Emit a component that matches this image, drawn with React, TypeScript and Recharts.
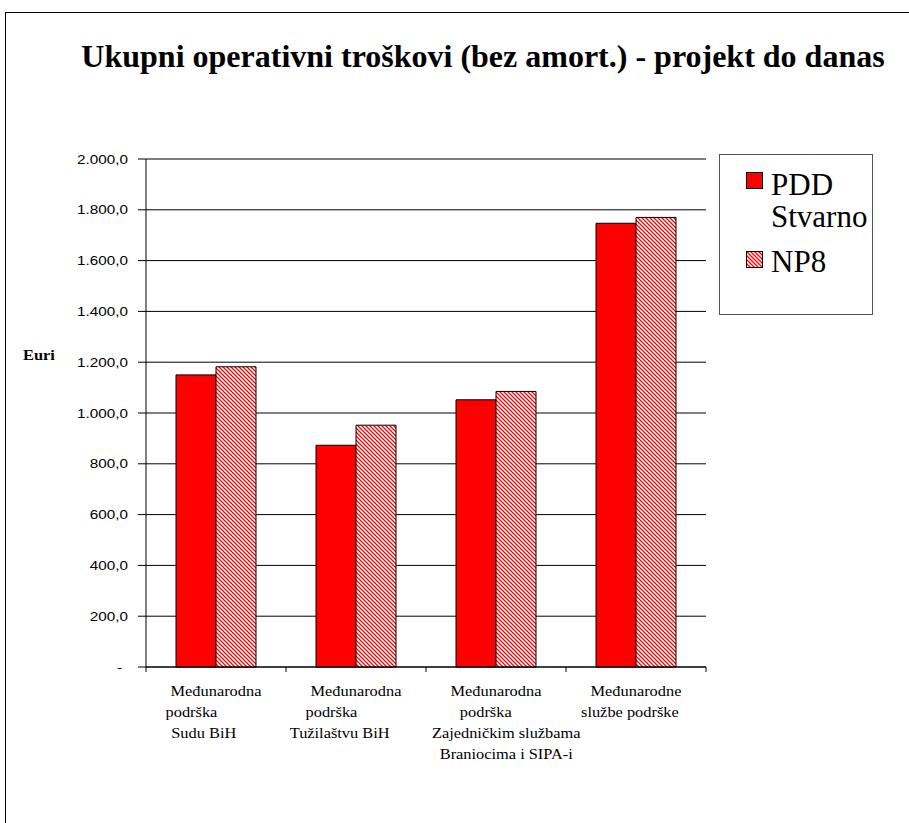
import React from 'react';
import { BarChart, Bar, XAxis, YAxis, CartesianGrid } from 'recharts';

const categoryLines: string[][] = [
  ['Međunarodna', 'podrška            ', 'Sudu BiH      '],
  ['Međunarodna', 'podrška            ', 'Tužilaštvu BiH        '],
  ['Međunarodna', 'podrška     ', '     Zajedničkim službama', '     Braniocima i SIPA-i'],
  ['Međunarodne', 'službe podrške   '],
];
const categoryKeys = ['c1', 'c2', 'c3', 'c4'];
const pddStvarno = [1150, 873, 1052, 1747];
const np8 = [1182, 952, 1085, 1770];
const yTicks = [0, 200, 400, 600, 800, 1000, 1200, 1400, 1600, 1800, 2000];
const seriesNames = ['PDD Stvarno', 'NP8'];
const legendLines = [['PDD', 'Stvarno'], ['NP8']];
const titleText = 'Ukupni operativni troškovi (bez amort.) - projekt do danas';
const yAxisTitle = 'Euri';

const data = categoryKeys.map((k, i) => ({ key: k, idx: i, pdd: pddStvarno[i], np8: np8[i] }));

const SERIF = "'Liberation Serif'";
const SANS = "'Liberation Sans'";
const W = 909;
const H = 823;
const PLOT_LEFT = 146;
const PLOT_RIGHT = 706;
const PLOT_TOP = 159;
const PLOT_BOTTOM = 667;
const Y_AXIS_W = 60;
const X_AXIS_H = 110;
const HALF_BAND = (PLOT_RIGHT - PLOT_LEFT) / categoryKeys.length / 2;
const STRETCH = 1.17;

const fmt = (v: number) => {
  if (v === 0) return '-';
  const s = Math.round(v).toString();
  const withDots = s.replace(/\B(?=(\d{3})+(?!\d))/g, '.');
  return withDots + ',0';
};

const XTick = (props: any) => {
  const { x, y, payload, index } = props;
  const i = typeof payload?.index === 'number' ? payload.index : index;
  const lines = categoryLines[i] || [];
  return (
    <g>
      <line x1={x - HALF_BAND} y1={y - 8} x2={x - HALF_BAND} y2={y - 3} stroke="#000" strokeWidth={1} />
      {i === categoryKeys.length - 1 && (
        <line x1={x + HALF_BAND} y1={y - 8} x2={x + HALF_BAND} y2={y - 3} stroke="#000" strokeWidth={1} />
      )}
      {lines.map((ln, j) => (
        <text
          key={j}
          transform={`translate(${x},${y + 21 + j * 21}) scale(${STRETCH},1)`}
          x={0}
          y={0}
          textAnchor="middle"
          xmlSpace="preserve"
          style={{ fontFamily: SERIF, fontSize: 14, whiteSpace: 'pre' }}
          fill="#000"
        >
          {ln}
        </text>
      ))}
    </g>
  );
};

const YTick = (props: any) => {
  const { x, y, payload } = props;
  const v = payload?.value ?? 0;
  return (
    <text
      transform={`translate(${v === 0 ? x - 6 : x},${y + 4.5}) scale(1.22,1)`}
      x={0}
      y={0}
      textAnchor="end"
      style={{ fontFamily: SANS, fontSize: 12.5 }}
      fill="#000"
    >
      {fmt(v)}
    </text>
  );
};

const Hatch = ({ id }: { id: string }) => (
  <pattern id={id} patternUnits="userSpaceOnUse" width={4} height={4}>
    <rect x={0} y={0} width={4} height={4} fill="#fff" />
    <path d="M-1,-1 L5,5 M3,-1 L5,1 M-1,3 L1,5" stroke="#FF0000" strokeWidth={1.3} />
  </pattern>
);

export default function App() {
  return (
    <div style={{ position: 'absolute', left: 0, top: 0, width: W, height: H, background: '#fff', overflow: 'hidden' }}>
      <div
        style={{
          position: 'absolute',
          left: 5,
          top: 12,
          width: W,
          height: H,
          borderLeft: '1px solid #000',
          borderTop: '1px solid #000',
        }}
      />
      <div
        style={{
          position: 'absolute',
          left: 0,
          top: 36,
          width: 966,
          textAlign: 'center',
          fontFamily: SERIF,
          fontWeight: 'bold',
          fontSize: 32,
          lineHeight: '40px',
          color: '#000',
          whiteSpace: 'nowrap',
        }}
      >
        {titleText}
      </div>
      <div
        style={{
          position: 'absolute',
          left: 23,
          top: 347,
          fontFamily: SERIF,
          fontWeight: 'bold',
          fontSize: 14,
          lineHeight: '18px',
          color: '#000',
          transform: `scaleX(${STRETCH})`,
          transformOrigin: '0 0',
        }}
      >
        {yAxisTitle}
      </div>
      <div style={{ position: 'absolute', left: 0, top: 0 }}>
        <BarChart
          width={W}
          height={H}
          data={data}
          margin={{ top: PLOT_TOP, right: W - PLOT_RIGHT, left: PLOT_LEFT - Y_AXIS_W, bottom: H - PLOT_BOTTOM - X_AXIS_H }}
          barCategoryGap={29}
          barGap={0}
        >
          <defs>
            <Hatch id="hatchRed" />
          </defs>
          <CartesianGrid vertical={false} stroke="#000" strokeWidth={1} />
          <XAxis
            dataKey="key"
            height={X_AXIS_H}
            interval={0}
            axisLine={{ stroke: '#000' }}
            tickLine={false}
            tick={<XTick />}
          />
          <YAxis
            width={Y_AXIS_W}
            domain={[0, 2000]}
            ticks={yTicks}
            interval={0}
            axisLine={{ stroke: '#000' }}
            tickLine={{ stroke: '#000' }}
            tickSize={8}
            tickMargin={10}
            tick={<YTick />}
          />
          <Bar dataKey="pdd" name={seriesNames[0]} fill="#FF0000" stroke="#000" strokeWidth={1} barSize={40} isAnimationActive={false} />
          <Bar dataKey="np8" name={seriesNames[1]} fill="url(#hatchRed)" stroke="#000" strokeWidth={1} barSize={40} isAnimationActive={false} />
        </BarChart>
      </div>
      <div
        style={{
          position: 'absolute',
          left: 719,
          top: 154,
          width: 152,
          height: 159,
          border: '1px solid #555',
          background: '#fff',
          fontFamily: SERIF,
          fontSize: 31,
          color: '#000',
        }}
      >
        <div style={{ position: 'absolute', left: 26, top: 17 }}>
          <svg width={17} height={17} style={{ display: 'block' }}>
            <rect x={0.5} y={0.5} width={16} height={16} fill="#FF0000" stroke="#000" />
          </svg>
        </div>
        <div style={{ position: 'absolute', left: 51, top: 14, lineHeight: '32px', width: 110, whiteSpace: 'nowrap' }}>
          {legendLines[0].map((t) => (
            <div key={t}>{t}</div>
          ))}
        </div>
        <div style={{ position: 'absolute', left: 26, top: 96 }}>
          <svg width={17} height={17} style={{ display: 'block' }}>
            <defs>
              <Hatch id="hatchLegend" />
            </defs>
            <rect x={0.5} y={0.5} width={16} height={16} fill="url(#hatchLegend)" stroke="#000" />
          </svg>
        </div>
        <div style={{ position: 'absolute', left: 51, top: 91, lineHeight: '32px', whiteSpace: 'nowrap' }}>
          {legendLines[1].map((t) => (
            <div key={t}>{t}</div>
          ))}
        </div>
      </div>
    </div>
  );
}
